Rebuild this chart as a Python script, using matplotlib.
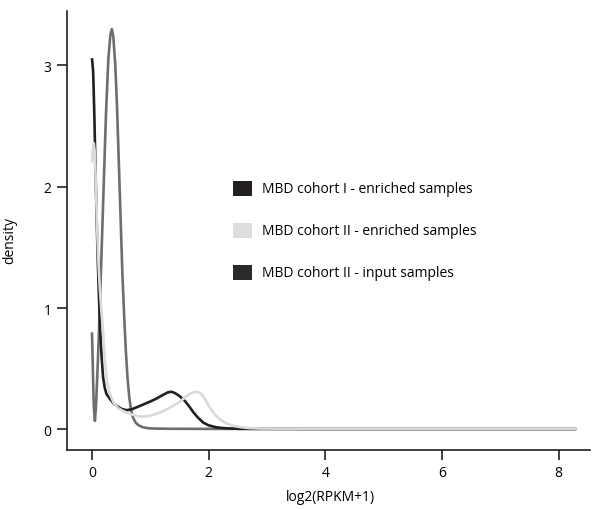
import numpy as np
import matplotlib.pyplot as plt
from matplotlib.patches import Rectangle

plt.rcParams['font.family'] = ['Open Sans', 'DejaVu Sans']

# density curves (x = log2(RPKM+1))
cohort1_enriched_x = [0.0, 0.02, 0.04, 0.06, 0.08, 0.10, 0.12, 0.14, 0.165, 0.19, 0.22, 0.25,
                      0.31, 0.36, 0.42, 0.5, 0.59, 0.68, 0.78, 0.88, 1.0, 1.11, 1.22, 1.3,
                      1.36, 1.42, 1.5, 1.6, 1.68, 1.74, 1.82, 1.91, 2.0, 2.14, 2.3, 2.5,
                      3.0, 4.0, 6.0, 8.3]
cohort1_enriched_y = [3.06, 2.95, 2.6, 2.15, 1.74, 1.38, 1.08, 0.82, 0.6, 0.43, 0.34, 0.29,
                      0.25, 0.22, 0.195, 0.17, 0.158, 0.165, 0.185, 0.205, 0.23, 0.255, 0.285, 0.305,
                      0.31, 0.3, 0.275, 0.23, 0.18, 0.14, 0.095, 0.055, 0.033, 0.016, 0.009, 0.005,
                      0.004, 0.003, 0.003, 0.003]

cohort2_enriched_x = [0.0, 0.015, 0.03, 0.045, 0.06, 0.08, 0.1, 0.12, 0.14, 0.16, 0.19, 0.22,
                      0.25, 0.3, 0.37, 0.45, 0.52, 0.59, 0.7, 0.8, 0.88, 0.98, 1.08, 1.17,
                      1.3, 1.45, 1.55, 1.62, 1.7, 1.77, 1.83, 1.88, 1.95, 2.02, 2.1, 2.2,
                      2.3, 2.42, 2.55, 2.7, 2.9, 3.2, 4.0, 6.0, 8.3]
cohort2_enriched_y = [2.2, 2.3, 2.36, 2.3, 2.12, 1.8, 1.5, 1.28, 1.12, 0.98, 0.8, 0.58,
                      0.42, 0.3, 0.22, 0.175, 0.155, 0.14, 0.12, 0.108, 0.105, 0.11, 0.125, 0.14,
                      0.17, 0.21, 0.245, 0.275, 0.3, 0.31, 0.305, 0.29, 0.24, 0.18, 0.125, 0.08,
                      0.05, 0.03, 0.018, 0.01, 0.007, 0.006, 0.006, 0.006, 0.006]

cohort2_input_x = [0.0, 0.015, 0.03, 0.05, 0.07, 0.1, 0.13, 0.16, 0.2, 0.24, 0.28, 0.315,
                   0.34, 0.365, 0.4, 0.43, 0.46, 0.49, 0.52, 0.55, 0.58, 0.61, 0.64, 0.67,
                   0.7, 0.75, 0.8, 0.87, 0.95, 1.05, 1.3, 2.0, 4.0, 6.0, 8.3]
cohort2_input_y = [0.8, 0.5, 0.2, 0.07, 0.2, 0.55, 0.95, 1.4, 2.0, 2.6, 3.05, 3.25,
                   3.3, 3.24, 3.0, 2.65, 2.2, 1.75, 1.3, 0.95, 0.65, 0.42, 0.26, 0.16,
                   0.1, 0.055, 0.033, 0.018, 0.01, 0.007, 0.005, 0.004, 0.004, 0.004, 0.004]

labels = ['MBD cohort I - enriched samples',
          'MBD cohort II - enriched samples',
          'MBD cohort II - input samples']
line_colors = ['#231f20', '#d9dadb', '#6d6e71']
legend_colors = ['#231f20', '#dcdddf', '#2b2a2a']

fig = plt.figure(figsize=(5.92, 5.10), dpi=100)
ax = fig.add_axes([0.113, 0.1157, 0.884, 0.861])

series = [(cohort1_enriched_x, cohort1_enriched_y),
          (cohort2_enriched_x, cohort2_enriched_y),
          (cohort2_input_x, cohort2_input_y)]
# input curve at the back, light enriched curve on top
for i in [2, 0, 1]:
    xs, ys = series[i]
    ax.plot(xs, ys, color=line_colors[i], lw=1.9,
            solid_joinstyle='round', solid_capstyle='butt')

ax.set_xlim(-0.43, 8.54)
ax.set_ylim(-0.17, 3.45)
ax.set_xticks([0, 2, 4, 6, 8])
ax.set_yticks([0, 1, 2, 3])
for s in ['top', 'right']:
    ax.spines[s].set_visible(False)
for s in ['left', 'bottom']:
    ax.spines[s].set_linewidth(1.2)
    ax.spines[s].set_color('#231f20')
ax.tick_params(length=7, width=1.2, color='#231f20', labelsize=10, pad=4)
ax.set_xlabel('log2(RPKM+1)', fontsize=10)
ax.set_ylabel('density', fontsize=10)
ax.xaxis.set_label_coords(0.503, -0.089)
ax.yaxis.set_label_coords(-0.094, 0.48)

# legend, drawn by hand in figure pixels
for k, (lab, col) in enumerate(zip(labels, legend_colors)):
    yc = 510 - (189.5 + 42 * k)
    fig.patches.append(Rectangle((233 / 592, (yc - 7.5) / 510), 19 / 592, 15 / 510,
                                 transform=fig.transFigure, color=col, lw=0))
    fig.text(262 / 592, yc / 510, lab, fontsize=10, va='center', ha='left')

fig.savefig('out.png', dpi=100)
